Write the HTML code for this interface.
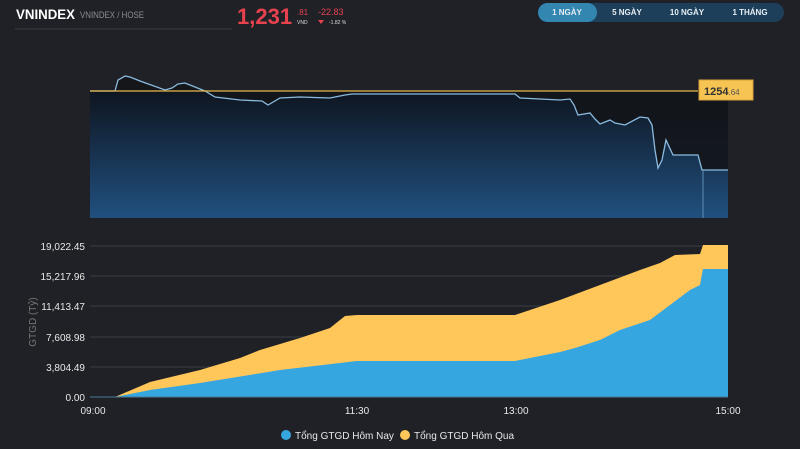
<!DOCTYPE html>
<html><head><meta charset="utf-8"><style>
body{margin:0;width:800px;height:449px;background:#1f2126;overflow:hidden;font-family:"Liberation Sans","Noto Sans CJK SC",sans-serif}
</style></head><body>
<svg width="800" height="449" xmlns="http://www.w3.org/2000/svg" style="position:absolute;left:0;top:0">
<defs>
<linearGradient id="g" x1="0" y1="0" x2="0" y2="1"><stop offset="0" stop-color="#0e1520"/><stop offset="1" stop-color="#21507f"/></linearGradient>
</defs>
<text x="16" y="19" fill="#fff" font-size="14" font-weight="bold" textLength="59" lengthAdjust="spacingAndGlyphs">VNINDEX</text>
<text x="80" y="18" fill="#8a8d94" font-size="9" textLength="64" lengthAdjust="spacingAndGlyphs">VNINDEX / HOSE</text>
<line x1="15" y1="29" x2="232" y2="29" stroke="#3a3d44"/>
<text x="237" y="24" fill="#e8424f" font-size="22" font-weight="bold">1,231</text>
<text x="297" y="15" fill="#e8424f" font-size="8">.81</text>
<text x="297" y="24" fill="#ddd" font-size="5">VND</text>
<text x="318" y="15" fill="#e8424f" font-size="9">-22.83</text>
<polygon points="318,20 324,20 321,24" fill="#e8424f"/>
<text x="329" y="24" fill="#ddd" font-size="5">-1.82 %</text>
<rect x="538" y="3" width="246" height="19" rx="9.5" fill="#1d3f5a"/>
<rect x="538" y="3" width="59" height="19" rx="9.5" fill="#3286b0"/>
<g fill="#e6eef4" font-size="8" font-weight="bold" text-anchor="middle">
<text x="567" y="15">1 NGÀY</text><text x="627" y="15">5 NGÀY</text><text x="687" y="15">10 NGÀY</text><text x="750" y="15">1 THÁNG</text></g>
<rect x="90" y="91" width="638" height="127" fill="url(#g)"/>
<path d="M115,91 L118,80 L125,76 L130,77 L140,81 L165,90 L172,88 L178,84 L185,83 L205,91 L215,97 L240,100 L262,101 L268,105 L280,98 L300,97 L330,98 L345,95 L352,94 L515,94 L520,98 L560,100 L570,99 L574,105 L578,115 L590,113 L595,119 L600,124 L610,120 L615,123 L625,125 L640,117 L648,118 L652,125 L655,150 L658,168 L662,160 L666,140 L673,155 L698,155 L702,170 L728,170 L728,91 L115,91 Z" fill="#131519" opacity="0.9"/>
<path d="M90,91 L115,91 L118,80 L125,76 L130,77 L140,81 L165,90 L172,88 L178,84 L185,83 L205,91 L215,97 L240,100 L262,101 L268,105 L280,98 L300,97 L330,98 L345,95 L352,94 L515,94 L520,98 L560,100 L570,99 L574,105 L578,115 L590,113 L595,119 L600,124 L610,120 L615,123 L625,125 L640,117 L648,118 L652,125 L655,150 L658,168 L662,160 L666,140 L673,155 L698,155 L702,170 L728,170" fill="none" stroke="#8bbbe0" stroke-width="1.3"/>
<line x1="703" y1="170" x2="703" y2="218" stroke="#5e8db5"/>
<line x1="90" y1="91" x2="698" y2="91" stroke="#e8b84a" stroke-width="1.3"/>
<rect x="699" y="80" width="54" height="20" fill="#f6c453" stroke="#d8a23a"/>
<text x="704" y="95" fill="#333" font-size="11" font-weight="bold">1254<tspan font-size="8" font-weight="normal" fill="#555">.64</tspan></text>
<g stroke="#3a3d44"><line x1="90" y1="246" x2="728" y2="246"/><line x1="90" y1="276" x2="728" y2="276"/><line x1="90" y1="306" x2="728" y2="306"/><line x1="90" y1="337" x2="728" y2="337"/><line x1="90" y1="367" x2="728" y2="367"/></g>
<g fill="#e8e8e8" font-size="10" text-anchor="end">
<text x="85" y="250">19,022.45</text><text x="85" y="280">15,217.96</text><text x="85" y="310">11,413.47</text><text x="85" y="341">7,608.98</text><text x="85" y="371">3,804.49</text><text x="85" y="401">0.00</text></g>
<text transform="translate(36,322) rotate(-90)" fill="#777" font-size="10" text-anchor="middle">GTGD (Tỷ)</text>
<path d="M90,397 L115,397 L150,382 L200,370 L240,358 L260,350 L300,338 L330,328 L345,316 L357,315 L515,315 L560,300 L600,285 L640,270 L660,263 L675,255 L700,254 L703,245 L728,245 L728,397 Z" fill="#ffc65a"/>
<path d="M90,397 L115,397 L150,390 L200,383 L280,370 L357,361 L515,361 L560,352 L575,348 L600,340 L620,330 L650,320 L670,305 L690,290 L700,285 L703,269 L728,269 L728,397 Z" fill="#36a6e0"/>
<line x1="90" y1="397" x2="728" y2="397" stroke="#4a7a9a"/>
<g fill="#e8e8e8" font-size="10" text-anchor="middle">
<text x="93" y="414">09:00</text><text x="357" y="414">11:30</text><text x="516" y="414">13:00</text><text x="728" y="414">15:00</text></g>
<circle cx="286" cy="435" r="5" fill="#36a6e0"/>
<text x="295" y="439" fill="#e8e8e8" font-size="10">Tổng GTGD Hôm Nay</text>
<circle cx="405" cy="435" r="5" fill="#ffc65a"/>
<text x="414" y="439" fill="#e8e8e8" font-size="10">Tổng GTGD Hôm Qua</text>
</svg>
</body></html>
